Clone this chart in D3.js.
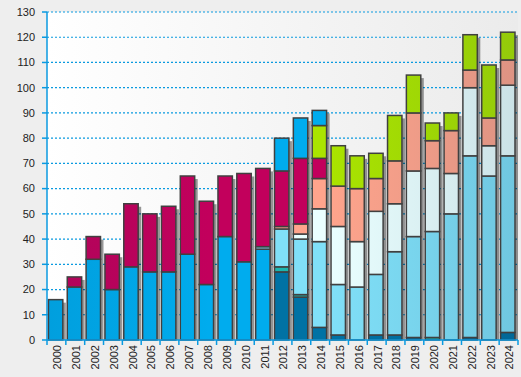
<!DOCTYPE html>
<html lang="en">
<head>
<meta charset="UTF-8">
<title>stacked bars</title>
<script src="https://cdn.jsdelivr.net/npm/d3@7"></script>
<style>
  html, body { margin: 0; padding: 0; background: #eeeeee; }
  text { font-family: "Liberation Sans", Arial, sans-serif; font-size: 11px; fill: #222; }
</style>
</head>
<body>
<div id="app"></div>
<script>
var years = ["2000","2001","2002","2003","2004","2005","2006","2007","2008","2009","2010","2011","2012",
             "2013","2014","2015","2016","2017","2018","2019","2020","2021","2022","2023","2024"];
// stack order, bottom to top
var darkBlue  = [0,0,0,0,0,0,0,0,0,0,0,0,27,17,5,2,0,2,2,1,0,0,1,0,3];
var teal      = [0,0,0,0,0,0,0,0,0,0,0,0,2,1,0,0,0,0,0,0,1,0,0,0,0];
var blueLow   = [16,21,32,20,29,27,27,34,22,41,31,36,0,0,0,0,0,0,0,0,0,0,0,0,0];
var lightBlue = [0,0,0,0,0,0,0,0,0,0,0,1,15,22,34,20,21,24,33,40,42,50,72,65,70];
var paleCyan  = [0,0,0,0,0,0,0,0,0,0,0,0,0,2,13,23,18,25,19,26,25,16,27,12,28];
var salmon    = [0,0,0,0,0,0,0,0,0,0,0,0,1,4,12,16,21,13,17,23,11,17,7,11,10];
var crimson   = [0,4,9,14,25,23,26,31,33,24,35,31,22,26,8,0,0,0,0,0,0,0,0,0,0];
var green     = [0,0,0,0,0,0,0,0,0,0,0,0,0,0,13,16,13,10,18,15,7,7,14,21,11];
var blueTop   = [0,0,0,0,0,0,0,0,0,0,0,0,13,16,6,0,0,0,0,0,0,0,0,0,0];
var yTicks = [0,10,20,30,40,50,60,70,80,90,100,110,120,130];

var series = [
  {name: "darkBlue", values: darkBlue, color: "#0072a4"},
  {name: "teal", values: teal, color: "#1cb6ae"},
  {name: "blueLow", values: blueLow, color: "#00acee"},
  {name: "lightBlue", values: lightBlue, color: "#80e0f8"},
  {name: "paleCyan", values: paleCyan, color: "#eaffff"},
  {name: "salmon", values: salmon, color: "#ffa48c"},
  {name: "crimson", values: crimson, color: "#c2005c"},
  {name: "green", values: green, color: "#aae400"},
  {name: "blueTop", values: blueTop, color: "#00acee"}
];

var width = 521, height = 377;
var pLeft = 47, pRight = 518, pTop = 12, pBottom = 340;

var svg = d3.select("#app").append("svg")
  .attr("width", width).attr("height", height);

var defs = svg.append("defs");
var bg = defs.append("linearGradient").attr("id", "bg");
bg.append("stop").attr("offset", "0%").attr("stop-color", "#ffffff");
bg.append("stop").attr("offset", "100%").attr("stop-color", "#ebebeb");

// light falloff over the bars
var shade = defs.append("linearGradient").attr("id", "shade")
  .attr("gradientUnits", "userSpaceOnUse")
  .attr("x1", pLeft).attr("x2", pRight).attr("y1", 0).attr("y2", 0);
shade.append("stop").attr("offset", "0%").attr("stop-color", "#0a2a4a").attr("stop-opacity", 0.1);
shade.append("stop").attr("offset", "35%").attr("stop-color", "#0a2a4a").attr("stop-opacity", 0);
shade.append("stop").attr("offset", "60%").attr("stop-color", "#0a2a4a").attr("stop-opacity", 0);
shade.append("stop").attr("offset", "100%").attr("stop-color", "#0a2a4a").attr("stop-opacity", 0.14);

svg.append("rect").attr("width", width).attr("height", height).attr("fill", "#eeeeee");
svg.append("rect").attr("x", pLeft).attr("y", pTop)
  .attr("width", pRight - pLeft).attr("height", pBottom - pTop).attr("fill", "url(#bg)");

var x = d3.scaleBand().domain(years).range([pLeft, pRight]).padding(0);
var y = d3.scaleLinear().domain([0, 130]).range([pBottom, pTop]);

// grid
svg.append("g").selectAll("line").data(yTicks.slice(1)).enter().append("line")
  .attr("x1", pLeft).attr("x2", pRight)
  .attr("y1", function (d) { return y(d); }).attr("y2", function (d) { return y(d); })
  .attr("stroke", "#0a9ae0").attr("stroke-width", 1.2)
  .attr("stroke-dasharray", "2,2");

var table = years.map(function (yr, i) {
  var row = {year: yr};
  series.forEach(function (s) { row[s.name] = s.values[i]; });
  return row;
});
var stacked = d3.stack().keys(series.map(function (s) { return s.name; }))(table);
var totals = table.map(function (r) { return d3.sum(series, function (s) { return r[s.name]; }); });

var bw = x.bandwidth() * 0.765;
var off = x.bandwidth() * 0.075;

// shadows
svg.append("g").selectAll("rect").data(years).enter().append("rect")
  .attr("x", function (d) { return x(d) + off + 3; })
  .attr("y", function (d, i) { return y(totals[i]) + 3; })
  .attr("width", bw)
  .attr("height", function (d, i) { return pBottom - y(totals[i]) - 3; })
  .attr("fill", "#000").attr("opacity", 0.4);

var layers = svg.append("g").selectAll("g").data(stacked).enter().append("g");
layers.each(function (layer, li) {
  var g = d3.select(this);
  var segs = layer.filter(function (d) { return d[1] - d[0] > 0; });
  g.selectAll("rect.fill").data(segs).enter().append("rect")
    .attr("class", "fill")
    .attr("x", function (d) { return x(d.data.year) + off; })
    .attr("y", function (d) { return y(d[1]); })
    .attr("width", bw)
    .attr("height", function (d) { return y(d[0]) - y(d[1]); })
    .attr("fill", series[li].color);
  g.selectAll("rect.shade").data(segs).enter().append("rect")
    .attr("class", "shade")
    .attr("x", function (d) { return x(d.data.year) + off; })
    .attr("y", function (d) { return y(d[1]); })
    .attr("width", bw)
    .attr("height", function (d) { return y(d[0]) - y(d[1]); })
    .attr("fill", "url(#shade)")
    .attr("stroke", "#404040").attr("stroke-width", 1.5);
});

// axes
var yAxis = svg.append("g");
yAxis.append("line").attr("x1", pLeft).attr("x2", pLeft).attr("y1", pTop).attr("y2", pBottom)
  .attr("stroke", "#0a9ae0").attr("stroke-width", 1.5);
yAxis.selectAll("line.t").data(yTicks).enter().append("line").attr("class", "t")
  .attr("x1", pLeft - 5).attr("x2", pLeft)
  .attr("y1", function (d) { return y(d); }).attr("y2", function (d) { return y(d); })
  .attr("stroke", "#0a9ae0").attr("stroke-width", 1.5);
yAxis.selectAll("text").data(yTicks).enter().append("text")
  .attr("x", 35).attr("y", function (d) { return y(d); })
  .attr("dy", "0.35em").attr("text-anchor", "end")
  .text(function (d) { return d; });

var xAxis = svg.append("g");
xAxis.append("line").attr("x1", pLeft).attr("x2", pRight).attr("y1", pBottom).attr("y2", pBottom)
  .attr("stroke", "#0a9ae0").attr("stroke-width", 1.5);
xAxis.selectAll("line.t").data(years.concat(["end"])).enter().append("line").attr("class", "t")
  .attr("x1", function (d, i) { return pLeft + i * x.step(); })
  .attr("x2", function (d, i) { return pLeft + i * x.step(); })
  .attr("y1", pBottom).attr("y2", pBottom + 5)
  .attr("stroke", "#0a9ae0").attr("stroke-width", 1.5);
xAxis.selectAll("text").data(years).enter().append("text")
  .attr("transform", function (d) {
    return "translate(" + (x(d) + x.bandwidth() / 2 + 1) + "," + (pBottom + 5) + ") rotate(-90)";
  })
  .attr("dy", "0.35em").attr("text-anchor", "end")
  .text(function (d) { return d; });
</script>
</body>
</html>
